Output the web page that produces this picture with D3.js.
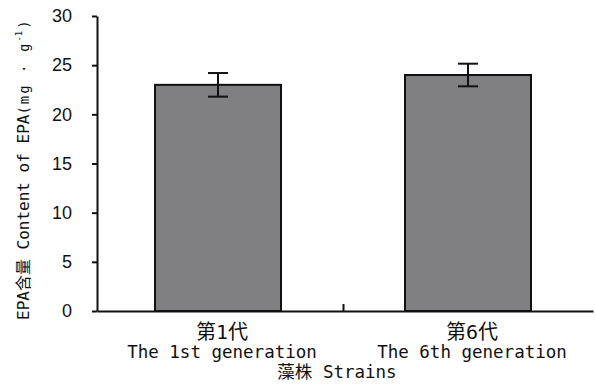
<!DOCTYPE html>
<html>
<head>
<meta charset="utf-8">
<script src="https://cdn.jsdelivr.net/npm/d3@7"></script>
<style>
  html, body { margin: 0; padding: 0; background: #fff; }
  svg { display: block; }
  .mono { font-family: "DejaVu Sans Mono", "Noto Sans CJK SC", monospace; }
</style>
</head>
<body>
<svg id="chart" width="595" height="388"></svg>
<script>
// EPA content per strain generation (mg/g), mean and error
const categoriesCN = ["第1代", "第6代"];
const categoriesEN = ["The 1st generation", "The 6th generation"];
const values = [23.0, 24.0];
const errors = [1.2, 1.15];
const yTicks = [0, 5, 10, 15, 20, 25, 30];

const svg = d3.select("#chart");
const margin = { left: 97, right: 6, top: 16, bottom: 77 };
const W = 595, H = 388;

const x = d3.scaleBand()
  .domain(d3.range(values.length))
  .range([margin.left, 589])
  .paddingInner(0.496)
  .paddingOuter(0.232);

const y = d3.scaleLinear()
  .domain([0, 30])
  .range([H - margin.bottom, margin.top]);

const ink = "#111";

// bars
svg.append("g").selectAll("rect")
  .data(values)
  .join("rect")
  .attr("x", (d, i) => x(i))
  .attr("y", d => y(d))
  .attr("width", x.bandwidth())
  .attr("height", d => y(0) - y(d))
  .attr("fill", "#808083")
  .attr("stroke", ink)
  .attr("stroke-width", 2);

// error bars
const eb = svg.append("g").attr("stroke", ink).attr("stroke-width", 2);
values.forEach((v, i) => {
  const cx = x(i) + x.bandwidth() / 2;
  eb.append("line").attr("x1", cx).attr("x2", cx)
    .attr("y1", y(v - errors[i])).attr("y2", y(v + errors[i]));
  [v - errors[i], v + errors[i]].forEach(e => {
    eb.append("line").attr("x1", cx - 10).attr("x2", cx + 10)
      .attr("y1", y(e)).attr("y2", y(e));
  });
});

// y axis
const yAxis = svg.append("g")
  .attr("transform", `translate(${margin.left},0)`)
  .call(d3.axisLeft(y).tickValues(yTicks).tickSize(5).tickPadding(20).tickSizeOuter(0));
yAxis.select(".domain").attr("stroke", ink).attr("stroke-width", 2);
yAxis.selectAll(".tick line").attr("stroke", ink).attr("stroke-width", 2);
yAxis.selectAll(".tick text")
  .attr("font-family", "Liberation Sans, Arial, sans-serif")
  .attr("font-size", 18)
  .attr("fill", ink);

// x axis baseline with a divider tick between the two categories
const divider = (x(0) + x.bandwidth() + x(1)) / 2;
const xLine = d3.scaleLinear().domain([margin.left, W - margin.right + 4]).range([margin.left, W - margin.right + 4]);
const xAxis = svg.append("g")
  .attr("transform", `translate(0,${y(0)})`)
  .call(d3.axisTop(xLine).tickValues([divider]).tickSize(7).tickSizeOuter(0).tickFormat(""));
xAxis.select(".domain").attr("stroke", ink).attr("stroke-width", 2);
xAxis.selectAll(".tick line").attr("stroke", ink).attr("stroke-width", 2);

// category labels
const lab = svg.append("g").attr("class", "mono").attr("fill", ink).attr("text-anchor", "middle");
values.forEach((v, i) => {
  const cx = x(i) + x.bandwidth() / 2 + 4;
  lab.append("text").attr("x", cx).attr("y", 339).attr("font-size", 20).text(categoriesCN[i]);
  lab.append("text").attr("x", cx).attr("y", 358).attr("font-size", 17.5).text(categoriesEN[i]);
});
lab.append("text").attr("x", 337).attr("y", 378).attr("font-size", 17.5).text("藻株 Strains");

// y axis title
const yt = svg.append("text")
  .attr("class", "mono")
  .attr("fill", ink)
  .attr("transform", "translate(29,320) rotate(-90)")
  .attr("text-anchor", "start");
yt.append("tspan").attr("font-size", 16).text("EPA含量");
yt.append("tspan").attr("font-size", 16).text(" Content of EPA");
yt.append("tspan").attr("font-size", 14).attr("letter-spacing", 2).text("(mg · g");
yt.append("tspan").attr("font-size", 9).attr("dy", -7).text("-1");
yt.append("tspan").attr("font-size", 14).attr("dy", 7).attr("dx", 2).text(")");
</script>
</body>
</html>
